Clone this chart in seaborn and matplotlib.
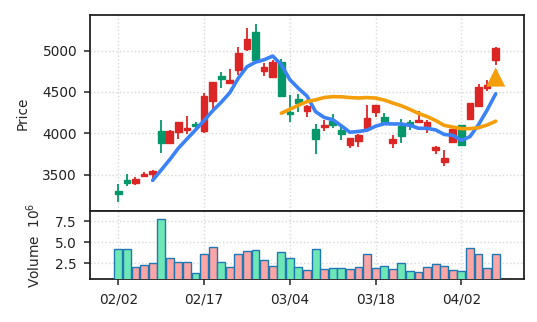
import numpy as np
import pandas as pd
import matplotlib
matplotlib.use("Agg")
import matplotlib.pyplot as plt
import seaborn as sns

# Daily OHLC prices (trading days)
opens = [3307, 3440, 3395, 3480, 3508, 4028, 3879, 4020, 4044, 4113,
         4032, 4391, 4698, 4605, 4766, 5016, 5230, 4754, 4685, 4859,
         4254, 4411, 4266, 4048, 4073, 4149, 4040, 3859, 3907, 4060,
         4254, 4194, 3887, 4089, 4133, 4141, 4089, 3798, 3653, 3891,
         4097, 4173, 4331, 4544, 4883]
highs = [3383, 3504, 3468, 3532, 3556, 4161, 4036, 4141, 4210, 4141,
         4484, 4625, 4746, 4778, 5040, 5270, 5318, 4847, 4887, 4899,
         4464, 4472, 4339, 4113, 4161, 4234, 4109, 3948, 3988, 4343,
         4347, 4246, 3980, 4169, 4161, 4270, 4157, 3847, 3798, 4056,
         4101, 4371, 4597, 4641, 5044]
lows = [3165, 3367, 3375, 3472, 3435, 3766, 3871, 3931, 3992, 4060,
        4000, 4262, 4544, 4597, 4706, 4996, 4883, 4698, 4673, 4448,
        4141, 4254, 4202, 3754, 4032, 4069, 3915, 3827, 3839, 4052,
        4202, 4101, 3827, 3887, 4040, 4133, 4004, 3746, 3609, 3887,
        3847, 4169, 4323, 4516, 4831]
closes = [3262, 3395, 3448, 3508, 3540, 3887, 4028, 4133, 4065, 4089,
          4452, 4617, 4653, 4641, 4976, 5137, 4891, 4798, 4867, 4456,
          4230, 4363, 4331, 3927, 4105, 4097, 3992, 3940, 3976, 4181,
          4339, 4141, 3927, 3972, 4101, 4161, 4137, 3831, 3698, 4048,
          3859, 4363, 4556, 4581, 5028]
# Volume in millions
volumes = [4.17, 4.17, 2.08, 2.33, 2.46, 7.83, 3.08, 2.67, 2.67, 1.29,
           3.58, 4.46, 2.67, 2.08, 3.58, 3.92, 4.08, 2.83, 2.21, 3.83,
           3.08, 2.08, 1.67, 4.21, 1.79, 1.96, 1.96, 1.79, 2.08, 3.54,
           1.96, 2.21, 1.79, 2.46, 1.54, 1.42, 2.08, 2.42, 2.21, 1.71,
           1.54, 4.33, 3.54, 1.96, 3.54]
tick_labels = ["02/02", "02/17", "03/04", "03/18", "04/02"]
tick_index = [0, 10, 20, 30, 40]
# Buy signal marker
signal_index = [44]
signal_price = [4680]

UP = "#dc2626"
DOWN = "#059669"
UP_VOL = "#fca5a5"
DOWN_VOL = "#6ee7b7"

df = pd.DataFrame({"open": opens, "high": highs, "low": lows,
                   "close": closes, "volume": volumes})
df["idx"] = np.arange(len(df))
df["up"] = df["close"] >= df["open"]
df["ma5"] = df["close"].rolling(5).mean()
df["ma20"] = df["close"].rolling(20).mean()

sns.set_theme(style="ticks")
plt.rcParams["font.family"] = ["DejaVu Sans"]
FS = 9.8

fig = plt.figure(figsize=(5.37, 3.22), dpi=100)
ax = fig.add_axes([0.1676, 0.3447, 0.8082, 0.6087])
axv = fig.add_axes([0.1676, 0.1323, 0.8082, 0.2124], sharex=ax)

candle_col = np.where(df["up"], UP, DOWN)
vol_col = np.where(df["up"], UP_VOL, DOWN_VOL)

# wicks
ax.vlines(df["idx"], df["low"], df["high"], colors=candle_col, linewidth=1.3, zorder=2)
# bodies
body_bottom = np.minimum(df["open"], df["close"])
body_height = np.abs(df["close"] - df["open"])
ax.bar(df["idx"], body_height, bottom=body_bottom, width=0.78,
       color=candle_col, edgecolor=candle_col, linewidth=1.0, zorder=3)

sns.lineplot(data=df, x="idx", y="ma5", ax=ax, color="#3b82f6", linewidth=2.6, zorder=4)
sns.lineplot(data=df, x="idx", y="ma20", ax=ax, color="#f59e0b", linewidth=2.6, zorder=4)
sns.scatterplot(x=signal_index, y=signal_price, ax=ax, marker="^", s=190,
                color="#f59e0b", edgecolor="none", zorder=5)

axv.bar(df["idx"], df["volume"], width=0.92, color=vol_col,
        edgecolor="#1f77b4", linewidth=1.0, zorder=3)

ax.set_xlim(-3.3, 47.3)
ax.set_ylim(3060, 5430)
axv.set_ylim(0.55, 8.75)

ax.set_yticks([3500, 4000, 4500, 5000])
axv.set_yticks([2.5, 5.0, 7.5])
axv.set_xticks(tick_index)
axv.set_xticklabels(tick_labels)
ax.tick_params(axis="x", which="both", bottom=False, labelbottom=False)

ax.set_xlabel("")
ax.set_ylabel("Price", fontsize=FS)
axv.set_xlabel("")
axv.set_ylabel("Volume  $10^{6}$", fontsize=FS)
ax.yaxis.set_label_coords(-0.139, 0.5)
axv.yaxis.set_label_coords(-0.109, 0.5)

for a in (ax, axv):
    a.grid(True, linestyle=":", color="#d8d8d8", linewidth=1.0)
    a.set_axisbelow(True)
    for sp in a.spines.values():
        sp.set_visible(True)
        sp.set_color("#222222")
        sp.set_linewidth(1.3)
    a.tick_params(axis="both", direction="out", length=4.3, width=1.1, pad=5,
                  color="#222222", labelsize=FS, labelcolor="#222222")

fig.savefig("out.png", dpi=100)
